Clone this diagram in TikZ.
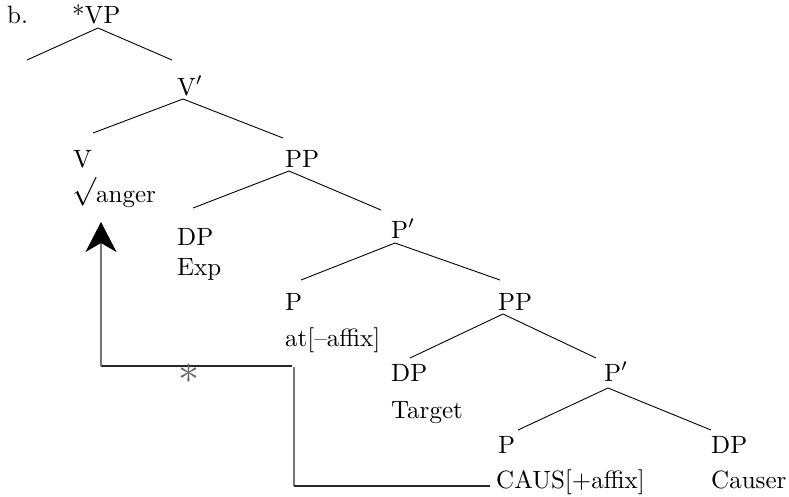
\documentclass[tikz,border=0pt]{standalone}
\usetikzlibrary{arrows.meta}
\newcommand{\bigtxt}[1]{\scalebox{2.5}{\fontsize{10}{12}\selectfont #1}}
\newcommand{\rootsign}{\makebox[9.6pt][l]{\smash{\raisebox{1.2pt}{\scalebox{1.15}{$\surd$}}}}}
\begin{document}
\begin{tikzpicture}[x=1pt,y=-1pt,
  lbl/.style={anchor=base west,inner sep=0pt},
  branch/.style={draw=black,line width=0.9pt},
  movev/.style={draw=black!55,line width=1.2pt},
  moveh/.style={draw=black!85,line width=1.2pt}]
\useasboundingbox (0,0) rectangle (789,496);
% labels
\node[lbl] (ex) at (7,23) {\bigtxt{b.}};
\node[lbl] (vp) at (72,23) {\bigtxt{*VP}};
\node[lbl] (vbar) at (177,95) {\bigtxt{V$'$}};
\node[lbl] (v) at (73,167) {\bigtxt{V}};
\node[lbl] (anger) at (72,202) {\bigtxt{\rootsign anger}};
\node[lbl] (pp1) at (285,167) {\bigtxt{PP}};
\node[lbl] (dp1) at (177,245) {\bigtxt{DP}};
\node[lbl] (exp) at (177,275) {\bigtxt{Exp}};
\node[lbl] (pbar1) at (391,238) {\bigtxt{P$'$}};
\node[lbl] (p1) at (285,310) {\bigtxt{P}};
\node[lbl] (at) at (285,346) {\bigtxt{at[–affix]}};
\node[lbl] (pp2) at (498,310) {\bigtxt{PP}};
\node[lbl] (dp2) at (391,381) {\bigtxt{DP}};
\node[lbl] (target) at (391,418) {\bigtxt{Target}};
\node[lbl] (pbar2) at (604,381) {\bigtxt{P$'$}};
\node[lbl] (p2) at (498,453) {\bigtxt{P}};
\node[lbl] (caus) at (496,488) {\bigtxt{CAUS[+affix]}};
\node[lbl] (dp3) at (711,453) {\bigtxt{DP}};
\node[lbl] (causer) at (711,488) {\bigtxt{Causer}};
% branch points
\coordinate (vpA) at (98,28);
\coordinate (vpL) at (27,60);
\coordinate (vpR) at (172,60);
\coordinate (vbA) at (183,99);
\coordinate (vbL) at (93,133);
\coordinate (vbR) at (283,138);
\coordinate (ppaA) at (289,171);
\coordinate (ppaL) at (193,208);
\coordinate (ppaR) at (381,210);
\coordinate (pbaA) at (395,243);
\coordinate (pbaL) at (301,280);
\coordinate (pbaR) at (500,280);
\coordinate (ppbA) at (503,314);
\coordinate (ppbL) at (410,358);
\coordinate (ppbR) at (596,358);
\coordinate (pbbA) at (608,388);
\coordinate (pbbL) at (518,430);
\coordinate (pbbR) at (711,430);
\draw[branch] (vpL) -- (vpA) -- (vpR);
\draw[branch] (vbL) -- (vbA) -- (vbR);
\draw[branch] (ppaL) -- (ppaA) -- (ppaR);
\draw[branch] (pbaL) -- (pbaA) -- (pbaR);
\draw[branch] (ppbL) -- (ppbA) -- (ppbR);
\draw[branch] (pbbL) -- (pbbA) -- (pbbR);
% movement
\coordinate (a1) at (292,366);
\coordinate (a2) at (101,366);
\coordinate (a3) at (101,222);
\coordinate (b1) at (294,367);
\coordinate (b2) at (294,486);
\coordinate (b3) at (490,486);
\draw[moveh] (a1) -- (a2);
\draw[movev,-{Stealth[length=30pt,width=31pt,inset=9pt,color=black]}] (a2) -- (a3);
\draw[movev] (b1) -- (b2);
\draw[moveh] (b2) -- (b3);
\node[text=black!60,inner sep=0pt] (star) at (189,374) {\scalebox{4.2}{\fontsize{10}{12}\selectfont$\ast$}};
\end{tikzpicture}
\end{document}
